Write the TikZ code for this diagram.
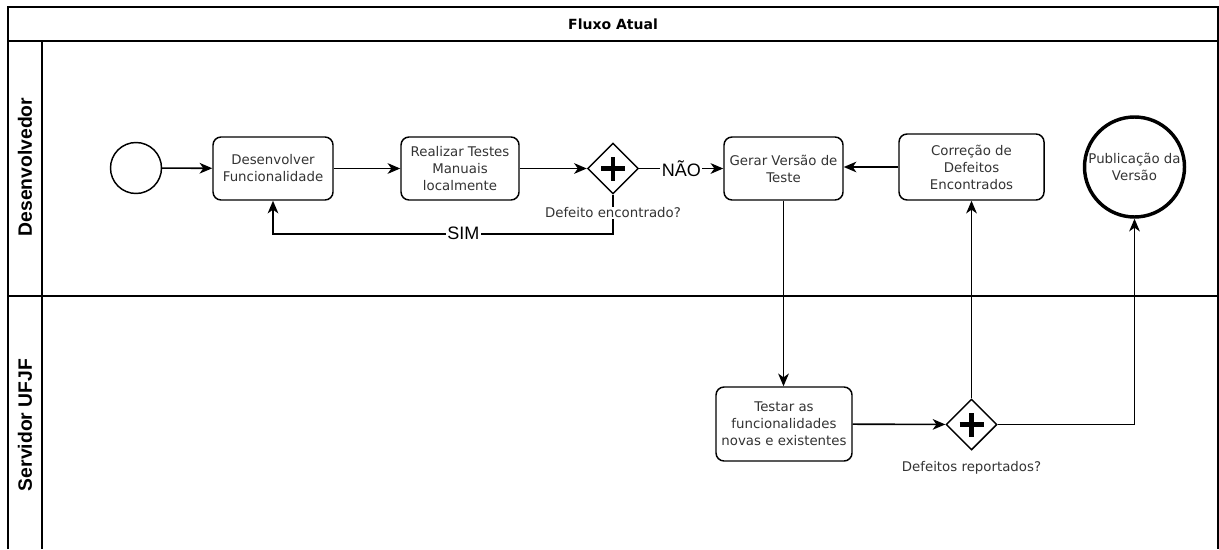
\documentclass[tikz,border=0pt]{standalone}
\usepackage{fontspec}
\setmainfont{DejaVu Sans}
\newfontfamily\lanefont{Liberation Sans}
\usepackage{xcolor}
\usepackage{tikz}
\usetikzlibrary{arrows.meta,shapes.geometric}
\definecolor{txtgray}{HTML}{333333}

\begin{document}
\begin{tikzpicture}[x=0.75pt, y=-0.75pt,
    every node/.style={text=txtgray, font=\fontsize{10}{12.75}\selectfont, align=center},
    task/.style={draw=black, rectangle, rounded corners=6pt, line width=1.1pt, inner sep=2pt},
    gate/.style={draw=black, diamond, line width=1.1pt, minimum size=38.25pt, inner sep=0pt},
    event/.style={draw=black, circle, inner sep=0pt},
    flow/.style={-{Stealth[length=9.5pt,width=8pt,inset=2.8pt]}, line width=1.2pt},
    lane/.style={line width=1.5pt},
    lanelabel/.style={rotate=90, text=black, font=\lanefont\bfseries\fontsize{14.5}{16}\selectfont},
    answer/.style={midway, fill=white, inner sep=1pt, text=black, font=\lanefont\fontsize{13.5}{15}\selectfont}]

    \useasboundingbox (0,0) rectangle (1219,549);

    % Pool and lanes
    \draw[lane] (8,549) -- (8,7) -- (1218,7) -- (1218,549);
    \draw[lane] (8,41) -- (1218,41);
    \draw[lane] (42,41) -- (42,549);
    \draw[lane] (8,296) -- (1218,296);
    \node[text=black, font=\bfseries\fontsize{10.5}{12}\selectfont] (title) at (613,24) {Fluxo Atual};
    \node[lanelabel] (devlane) at (25,167) {Desenvolvedor};
    \node[lanelabel] (srvlane) at (25,425) {Servidor UFJF};

    % Define nodes
    \node[event, line width=1.1pt, minimum size=38.25pt] (start) at (136,168) {};
    \node[task, minimum width=90pt, minimum height=47.25pt] (dev) at (273,168.5) {Desenvolver\\Funcionalidade};
    \node[task, minimum width=88.5pt, minimum height=47.25pt] (manual) at (460,168.5) {Realizar Testes\\Manuais\\localmente};
    \node[gate] (g1) at (613,168.5) {};
    \node[task, minimum width=89.25pt, minimum height=47.25pt] (build) at (783.5,168.5) {Gerar Versão de\\Teste};
    \node[task, minimum width=108.75pt, minimum height=49.5pt] (fix) at (971.5,167) {Correção de\\Defeitos\\Encontrados};
    \node[event, line width=2.6pt, minimum size=75pt] (pub) at (1134.5,167) {Publicação da\\Versão};
    \node[task, minimum width=102pt, minimum height=55.5pt] (check) at (784,424) {Testar as\\funcionalidades\\novas e existentes};
    \node[gate] (g2) at (971.5,424.5) {};

    % Plus marks in the gateways
    \draw[line width=3.2pt] ([xshift=-9pt]g1.center) -- ([xshift=9pt]g1.center)
        ([yshift=-9pt]g1.center) -- ([yshift=9pt]g1.center);
    \draw[line width=3.2pt] ([xshift=-9pt]g2.center) -- ([xshift=9pt]g2.center)
        ([yshift=-9pt]g2.center) -- ([yshift=9pt]g2.center);

    % Define connections
    \draw[flow] (start) -- (dev);
    \draw[flow] (dev) -- (manual);
    \draw[flow] (manual) -- (g1);
    \draw[flow] (g1) -- node[answer] {NÃO} (build);
    \draw[flow] (g1.south) -- ++(0,39) -| node[answer, pos=0.22] {SIM} (dev.south);
    \draw[flow] (fix) -- (fix -| build.east);
    \draw[flow] (build.south) -- (build.south |- check.north);
    \draw[flow] (check) -- (g2);
    \draw[flow] (g2) -- (fix);
    \draw[flow] (g2.east) -| (pub.south);

    % Gateway labels
    \node[fill=white, inner sep=1pt] (g1lbl) at (613,213) {Defeito encontrado?};
    \node (g2lbl) at (971.5,468) {Defeitos reportados?};

\end{tikzpicture}
\end{document}
